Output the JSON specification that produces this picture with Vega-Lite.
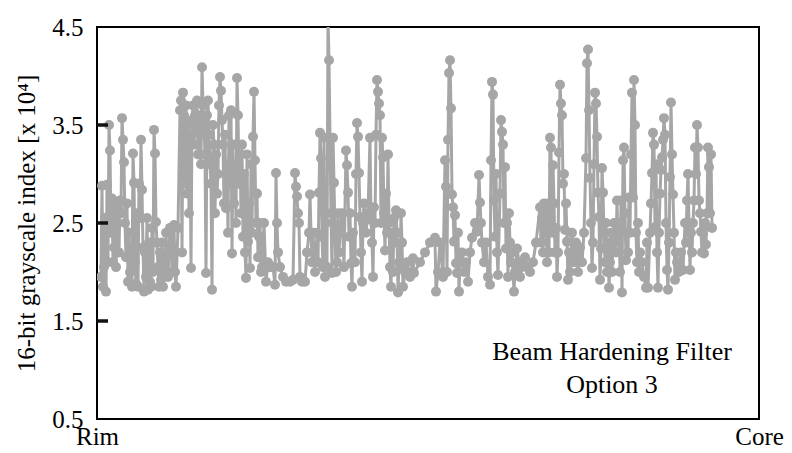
{
"$schema": "https://vega.github.io/schema/vega-lite/v6.json",
"width": 662, "height": 392,
"autosize": "none",
"padding": {"left": 97, "top": 27, "right": 33, "bottom": 34},
"background": "white",
"config": {"view": {"stroke": "black", "strokeWidth": 2}, "font": "Liberation Serif"},
"datasets": {
"profile": [
{"x":4,"v":1.95},{"x":5,"v":2.88},{"x":6,"v":1.85},{"x":7,"v":2.05},{"x":8,"v":2.55},{"x":9,"v":1.80},{"x":10,"v":2.89},{"x":11,"v":2.10},{"x":12,"v":3.50},{"x":13,"v":3.24},{"x":14,"v":2.40},{"x":15,"v":2.75},{"x":16,"v":2.10},{"x":17,"v":2.25},{"x":18,"v":2.70},{"x":19,"v":2.05},{"x":21,"v":2.65},{"x":22,"v":2.20},{"x":23,"v":2.73},{"x":24,"v":2.60},{"x":25,"v":3.57},{"x":26,"v":3.35},{"x":27,"v":3.12},{"x":28,"v":2.50},{"x":29,"v":2.15},{"x":30,"v":2.70},{"x":31,"v":1.90},{"x":32,"v":2.40},{"x":33,"v":2.00},{"x":34,"v":2.20},{"x":35,"v":1.85},{"x":36,"v":3.21},{"x":37,"v":2.91},{"x":38,"v":2.10},{"x":39,"v":1.88},{"x":40,"v":2.60},{"x":41,"v":1.85},{"x":42,"v":2.90},{"x":43,"v":2.55},{"x":44,"v":3.35},{"x":45,"v":2.84},{"x":46,"v":2.25},{"x":47,"v":1.80},{"x":48,"v":2.20},{"x":49,"v":1.95},{"x":50,"v":2.55},{"x":51,"v":1.82},{"x":52,"v":2.30},{"x":53,"v":1.90},{"x":54,"v":1.85},{"x":55,"v":2.45},{"x":56,"v":2.00},{"x":57,"v":3.45},{"x":58,"v":3.21},{"x":59,"v":2.51},{"x":60,"v":2.30},{"x":61,"v":2.05},{"x":62,"v":1.85},{"x":63,"v":2.20},{"x":64,"v":1.92},{"x":65,"v":2.30},{"x":66,"v":1.85},{"x":67,"v":2.10},{"x":68,"v":2.00},{"x":69,"v":2.40},{"x":70,"v":2.20},{"x":71,"v":1.95},{"x":73,"v":2.45},{"x":74,"v":2.45},{"x":75,"v":2.00},{"x":77,"v":2.48},{"x":78,"v":2.00},{"x":79,"v":1.85},{"x":81,"v":2.45},
{"x":83,"v":3.65},{"x":84,"v":3.75},{"x":85,"v":2.20},{"x":86,"v":3.83},{"x":87,"v":3.60},{"x":88,"v":2.90},{"x":89,"v":3.70},{"x":90,"v":2.80},{"x":91,"v":3.50},{"x":92,"v":2.60},{"x":93,"v":3.40},{"x":94,"v":2.04},{"x":95,"v":3.55},{"x":96,"v":3.70},{"x":97,"v":3.30},{"x":98,"v":3.60},{"x":99,"v":3.45},{"x":100,"v":3.75},{"x":101,"v":3.20},{"x":102,"v":3.60},{"x":103,"v":3.40},{"x":104,"v":3.10},{"x":105,"v":4.09},{"x":106,"v":3.70},{"x":107,"v":3.50},{"x":108,"v":3.20},{"x":109,"v":1.99},{"x":110,"v":3.60},{"x":111,"v":3.75},{"x":112,"v":3.40},{"x":113,"v":3.10},{"x":114,"v":2.90},{"x":115,"v":1.82},{"x":116,"v":3.50},{"x":117,"v":3.30},{"x":118,"v":2.60},{"x":119,"v":3.20},{"x":120,"v":2.80},{"x":121,"v":3.00},{"x":122,"v":3.70},{"x":123,"v":3.99},{"x":124,"v":3.85},{"x":125,"v":3.55},{"x":126,"v":3.30},{"x":127,"v":2.70},{"x":128,"v":3.40},{"x":129,"v":2.65},{"x":130,"v":3.10},{"x":131,"v":2.40},{"x":132,"v":3.60},{"x":133,"v":2.90},{"x":134,"v":3.65},{"x":135,"v":2.19},{"x":136,"v":3.30},{"x":137,"v":2.70},{"x":138,"v":3.10},{"x":139,"v":2.50},{"x":140,"v":3.98},{"x":141,"v":3.60},{"x":142,"v":2.90},{"x":143,"v":3.20},{"x":144,"v":2.60},{"x":145,"v":3.30},{"x":146,"v":2.36},{"x":147,"v":3.00},{"x":148,"v":2.20},{"x":149,"v":1.94},{"x":150,"v":3.20},{"x":151,"v":2.31},{"x":152,"v":2.70},{"x":153,"v":2.04},{"x":154,"v":3.10},{"x":155,"v":2.40},{"x":156,"v":3.38},{"x":157,"v":3.84},{"x":158,"v":3.14},{"x":159,"v":2.50},{"x":160,"v":2.80},{"x":161,"v":2.15},{"x":162,"v":2.36},{"x":163,"v":2.50},{"x":164,"v":2.00},{"x":165,"v":2.05},
{"x":167,"v":2.50},{"x":169,"v":1.90},{"x":171,"v":2.10},{"x":173,"v":2.05},{"x":176,"v":2.05},{"x":178,"v":1.87},{"x":179,"v":3.01},{"x":180,"v":2.50},{"x":181,"v":2.20},{"x":183,"v":2.05},{"x":186,"v":1.95},{"x":189,"v":1.90},{"x":193,"v":1.90},{"x":196,"v":1.92},{"x":198,"v":3.01},{"x":199,"v":2.87},{"x":200,"v":2.77},{"x":201,"v":2.60},{"x":202,"v":2.50},{"x":203,"v":1.95},{"x":205,"v":1.90},{"x":208,"v":1.90},{"x":210,"v":2.20},{"x":212,"v":2.40},{"x":213,"v":2.79},{"x":214,"v":2.40},{"x":215,"v":2.10},{"x":216,"v":2.40},{"x":218,"v":2.00},{"x":220,"v":2.40},{"x":221,"v":2.10},
{"x":222,"v":2.81},{"x":223,"v":3.42},{"x":224,"v":3.16},{"x":225,"v":2.36},{"x":226,"v":2.05},{"x":227,"v":3.37},{"x":228,"v":1.95},{"x":229,"v":2.50},{"x":230,"v":2.05},{"x":231,"v":4.60},{"x":232,"v":4.16},{"x":233,"v":3.37},{"x":234,"v":2.60},{"x":235,"v":1.99},{"x":236,"v":3.37},{"x":237,"v":2.91},{"x":238,"v":2.40},{"x":239,"v":2.00},{"x":240,"v":2.10},{"x":241,"v":2.60},{"x":242,"v":2.20},{"x":243,"v":2.40},{"x":245,"v":2.60},{"x":247,"v":2.05},{"x":249,"v":3.24},{"x":250,"v":3.09},{"x":251,"v":2.81},{"x":252,"v":2.36},{"x":253,"v":2.60},{"x":254,"v":2.09},{"x":255,"v":1.85},{"x":256,"v":2.40},{"x":258,"v":2.10},{"x":259,"v":3.00},{"x":260,"v":3.52},{"x":261,"v":3.38},{"x":262,"v":3.01},{"x":263,"v":2.56},{"x":264,"v":2.20},{"x":265,"v":1.90},{"x":266,"v":2.50},{"x":267,"v":2.70},{"x":269,"v":2.40},{"x":271,"v":2.60},{"x":273,"v":3.37},{"x":274,"v":2.53},{"x":275,"v":2.30},{"x":276,"v":1.95},{"x":277,"v":2.66},{"x":278,"v":2.50},{"x":279,"v":3.40},{"x":280,"v":3.96},{"x":281,"v":3.84},{"x":282,"v":3.72},{"x":283,"v":3.60},{"x":284,"v":2.50},{"x":285,"v":3.37},{"x":286,"v":3.17},{"x":287,"v":2.60},{"x":288,"v":2.22},{"x":289,"v":2.80},{"x":290,"v":2.40},{"x":291,"v":3.20},{"x":292,"v":2.50},{"x":293,"v":2.05},{"x":294,"v":1.85},{"x":295,"v":2.40},{"x":296,"v":2.00},{"x":297,"v":2.55},{"x":298,"v":2.30},{"x":299,"v":2.63},{"x":300,"v":2.40},{"x":301,"v":1.79},{"x":302,"v":2.10},{"x":303,"v":2.04},{"x":304,"v":2.60},{"x":305,"v":2.30},{"x":306,"v":1.85},{"x":308,"v":2.00},{"x":310,"v":2.10},{"x":313,"v":1.95},{"x":316,"v":2.14},{"x":317,"v":1.99},
{"x":323,"v":2.10},{"x":328,"v":2.20},{"x":333,"v":2.30},{"x":338,"v":2.35},{"x":339,"v":1.80},{"x":341,"v":2.00},{"x":343,"v":2.30},{"x":346,"v":1.95},{"x":348,"v":3.14},{"x":349,"v":2.87},{"x":350,"v":2.00},{"x":351,"v":3.35},{"x":352,"v":4.03},{"x":353,"v":4.16},{"x":354,"v":3.67},{"x":355,"v":2.79},{"x":356,"v":2.66},{"x":357,"v":2.31},{"x":358,"v":2.58},{"x":359,"v":2.09},{"x":360,"v":1.99},{"x":361,"v":2.40},{"x":362,"v":1.80},{"x":363,"v":2.10},{"x":365,"v":2.20},{"x":367,"v":2.00},{"x":369,"v":2.10},{"x":371,"v":1.90},{"x":373,"v":2.20},{"x":375,"v":2.35},{"x":378,"v":2.50},{"x":380,"v":2.41},{"x":382,"v":2.99},{"x":383,"v":2.71},{"x":384,"v":2.50},{"x":385,"v":2.30},{"x":387,"v":2.10},{"x":389,"v":2.30},{"x":391,"v":1.95},{"x":393,"v":1.87},{"x":394,"v":3.14},{"x":395,"v":3.94},{"x":396,"v":3.81},{"x":397,"v":2.73},{"x":398,"v":2.36},{"x":399,"v":3.00},{"x":400,"v":2.20},{"x":401,"v":1.97},{"x":403,"v":2.80},{"x":404,"v":3.55},{"x":405,"v":3.43},{"x":406,"v":3.30},{"x":407,"v":2.50},{"x":408,"v":3.07},{"x":409,"v":2.24},{"x":410,"v":2.50},{"x":411,"v":1.95},{"x":412,"v":2.60},{"x":413,"v":2.30},{"x":414,"v":2.10},{"x":415,"v":2.20},{"x":417,"v":1.80},{"x":418,"v":2.00},{"x":420,"v":2.24},{"x":422,"v":2.10},{"x":423,"v":1.95},{"x":425,"v":2.05},{"x":428,"v":2.15},{"x":431,"v":2.05},{"x":433,"v":2.00},{"x":436,"v":2.10},{"x":439,"v":2.30},
{"x":443,"v":2.66},{"x":444,"v":2.30},{"x":445,"v":2.55},{"x":446,"v":2.20},{"x":447,"v":2.70},{"x":448,"v":2.40},{"x":449,"v":2.60},{"x":450,"v":2.10},{"x":451,"v":2.70},{"x":452,"v":2.20},{"x":453,"v":3.37},{"x":454,"v":3.27},{"x":455,"v":2.40},{"x":456,"v":3.09},{"x":457,"v":2.70},{"x":458,"v":2.20},{"x":459,"v":2.45},{"x":460,"v":1.95},{"x":461,"v":2.20},{"x":462,"v":3.22},{"x":463,"v":3.91},{"x":464,"v":3.72},{"x":465,"v":3.60},{"x":466,"v":2.90},{"x":467,"v":3.00},{"x":468,"v":2.43},{"x":469,"v":2.70},{"x":470,"v":2.31},{"x":471,"v":1.92},{"x":472,"v":2.20},{"x":473,"v":2.00},{"x":475,"v":2.40},{"x":477,"v":2.10},{"x":479,"v":2.30},{"x":481,"v":2.00},{"x":483,"v":2.25},{"x":485,"v":2.10},{"x":487,"v":2.40},{"x":489,"v":3.16},{"x":490,"v":4.13},{"x":491,"v":4.27},{"x":492,"v":3.65},{"x":493,"v":2.96},{"x":494,"v":2.50},{"x":495,"v":2.04},{"x":496,"v":2.30},{"x":497,"v":3.10},{"x":498,"v":3.83},{"x":499,"v":3.72},{"x":500,"v":3.38},{"x":501,"v":2.81},{"x":502,"v":2.56},{"x":503,"v":1.92},{"x":504,"v":2.24},{"x":505,"v":3.06},{"x":506,"v":2.81},{"x":507,"v":2.40},{"x":508,"v":2.10},{"x":509,"v":2.50},{"x":510,"v":2.00},{"x":511,"v":2.30},{"x":512,"v":1.84},{"x":513,"v":2.10},{"x":514,"v":2.40},{"x":515,"v":2.00},{"x":516,"v":2.30},{"x":517,"v":2.50},{"x":518,"v":2.50},{"x":519,"v":2.20},{"x":520,"v":2.73},{"x":521,"v":2.31},{"x":522,"v":2.50},{"x":523,"v":2.00},{"x":524,"v":2.73},{"x":525,"v":1.79},{"x":526,"v":3.14},{"x":527,"v":3.27},{"x":528,"v":2.60},{"x":529,"v":2.12},{"x":530,"v":2.40},{"x":531,"v":2.20},{"x":532,"v":2.76},{"x":533,"v":2.40},{"x":534,"v":3.20},{"x":535,"v":3.83},{"x":536,"v":2.76},{"x":537,"v":3.96},{"x":538,"v":3.50},{"x":539,"v":2.40},{"x":540,"v":2.10},{"x":541,"v":2.50},{"x":542,"v":2.00},{"x":543,"v":2.20},{"x":545,"v":2.10},{"x":547,"v":1.95},{"x":549,"v":1.84},{"x":550,"v":2.30},{"x":551,"v":1.84},{"x":553,"v":2.40},{"x":554,"v":2.70},{"x":555,"v":3.01},{"x":556,"v":3.42},{"x":557,"v":3.30},{"x":558,"v":2.46},{"x":559,"v":3.10},{"x":560,"v":2.20},{"x":561,"v":1.84},{"x":562,"v":2.40},{"x":563,"v":2.80},{"x":564,"v":3.04},{"x":565,"v":3.17},{"x":566,"v":3.35},{"x":567,"v":3.57},{"x":568,"v":3.40},{"x":569,"v":2.50},{"x":570,"v":2.02},{"x":571,"v":1.82},{"x":572,"v":2.30},{"x":573,"v":2.97},{"x":574,"v":3.73},{"x":575,"v":3.20},{"x":576,"v":2.79},{"x":577,"v":2.40},{"x":578,"v":1.92},{"x":579,"v":2.20},{"x":580,"v":2.10},{"x":582,"v":2.00},{"x":584,"v":2.20},{"x":586,"v":2.02},{"x":588,"v":2.50},{"x":589,"v":2.30},{"x":590,"v":2.73},{"x":591,"v":3.00},{"x":592,"v":2.50},{"x":593,"v":2.02},{"x":594,"v":2.40},{"x":595,"v":2.20},{"x":596,"v":2.50},{"x":597,"v":2.73},{"x":598,"v":3.27},{"x":599,"v":3.00},{"x":600,"v":3.50},{"x":601,"v":3.27},{"x":602,"v":2.73},{"x":603,"v":2.60},{"x":604,"v":2.41},{"x":605,"v":2.20},{"x":606,"v":2.40},{"x":607,"v":2.19},{"x":608,"v":2.50},{"x":609,"v":2.28},{"x":610,"v":2.60},{"x":611,"v":3.27},{"x":612,"v":3.07},{"x":613,"v":2.60},{"x":614,"v":3.20},{"x":615,"v":2.45}
],
"note": [
{"x": 515, "v": 1.102, "t": "Beam Hardening Filter"},
{"x": 515, "v": 0.765, "t": "Option 3"}
],
"yticks": [
{"x0": 0, "x1": 11, "v": 1.5},
{"x0": 0, "x1": 11, "v": 2.5},
{"x0": 0, "x1": 11, "v": 3.5}
]
},
"layer": [
{
"data": {"name": "profile"},
"mark": {"type": "line", "color": "#a6a6a6", "strokeWidth": 3, "clip": true},
"encoding": {
"x": {"field": "x", "type": "quantitative", "scale": {"domain": [0, 662], "nice": false, "zero": false},
"axis": {"values": [0, 662], "labelExpr": "datum.value == 0 ? 'Rim' : 'Core'", "ticks": false, "domain": false, "grid": false, "title": null, "labelFontSize": 25, "labelPadding": 5, "labelColor": "black", "labelFlush": false, "labelOverlap": false, "labelFont": "Liberation Serif", "labelBaseline": "top"}},
"y": {"field": "v", "type": "quantitative", "scale": {"domain": [0.5, 4.5], "nice": false, "zero": false},
"axis": {"values": [0.5, 1.5, 2.5, 3.5, 4.5], "format": ".1f", "ticks": false, "labelPadding": 14, "domain": false, "grid": false, "title": "16-bit grayscale index [x 10⁴]", "titleFontSize": 25, "titleFontWeight": "normal", "titleFont": "Liberation Serif", "titleColor": "black", "titlePadding": 12, "labelFontSize": 25, "labelFont": "Liberation Serif", "labelColor": "black", "labelFlush": false, "labelOverlap": false}}
}
},
{
"data": {"name": "profile"},
"mark": {"type": "point", "filled": true, "color": "#a6a6a6", "size": 100, "opacity": 1, "clip": true},
"encoding": {
"x": {"field": "x", "type": "quantitative"},
"y": {"field": "v", "type": "quantitative"}
}
},
{
"data": {"name": "yticks"},
"mark": {"type": "rule", "color": "#111111", "strokeWidth": 3.5, "strokeCap": "butt", "opacity": 1},
"encoding": {
"x": {"field": "x0", "type": "quantitative"},
"x2": {"field": "x1"},
"y": {"field": "v", "type": "quantitative"}
}
},
{
"data": {"name": "note"},
"mark": {"type": "text", "fontSize": 26, "align": "center", "baseline": "alphabetic", "font": "Liberation Serif", "color": "black"},
"encoding": {
"x": {"field": "x", "type": "quantitative"},
"y": {"field": "v", "type": "quantitative"},
"text": {"field": "t"}
}
}
]
}
